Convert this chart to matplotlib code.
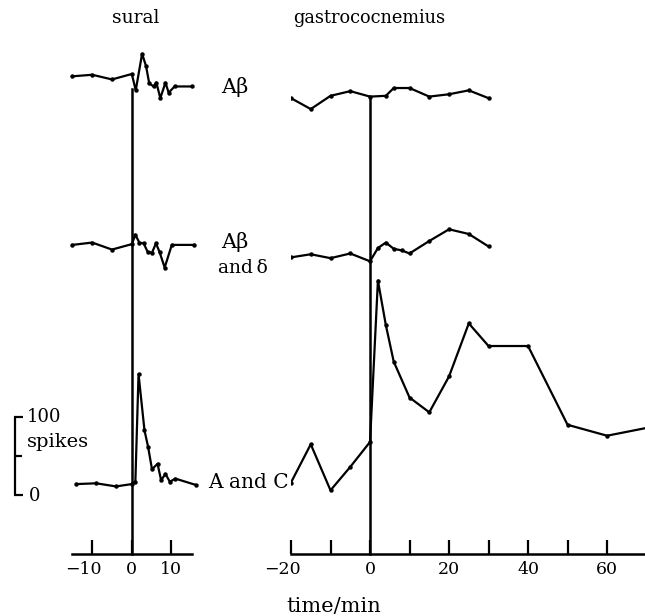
import matplotlib
matplotlib.use("Agg")
import matplotlib.pyplot as plt
import matplotlib.transforms as mtransforms

# ---------------- data (spike counts vs time in min) ----------------
sural_t_ab = [-15, -10, -5, 0, 1, 2.6, 3.6, 4.4, 5.5, 6.2, 7.2, 8.5, 9.3, 10.8, 15.2]
sural_ab = [56, 58, 52, 59, 38, 85, 69, 47, 43, 48, 28, 48, 35, 43, 43]

sural_t_abd = [-15, -10, -5, 0, 0.9, 1.9, 3.0, 4.0, 5.1, 6.1, 7.0, 8.3, 10.1, 15.8]
sural_abd = [45, 48, 39, 46, 58, 48, 47, 36, 35, 47, 36, 16, 45, 45]

sural_t_ac = [-14, -9, -4, 0, 0.9, 1.7, 3.2, 4.1, 5.1, 6.5, 7.4, 8.5, 9.6, 11, 16.1]
sural_ac = [14, 15, 11, 14, 17, 155, 83, 62, 33, 40, 19, 27, 17, 21, 13]

gastro_t_ab = [-20, -15, -10, -5, 0, 4, 6, 10, 15, 20, 25, 30]
gastro_ab = [28, 14, 31, 37, 30, 31, 41, 41, 30, 33, 38, 28]

gastro_t_abd = [-20, -15, -10, -5, 0, 2, 4, 6, 8, 10, 15, 20, 25, 30]
gastro_abd = [29, 33, 28, 34, 24, 41, 48, 40, 38, 34, 50, 65, 59, 43]

gastro_t_ac = [-20, -15, -10, -5, 0, 2, 4, 6, 10, 15, 20, 25, 30, 40, 50, 60, 70]
gastro_ac = [16, 65, 6, 36, 68, 275, 218, 171, 125, 106, 152, 220, 191, 191, 90, 76, 86]

sural_ticks = [-10, 0, 10]
sural_ticklabels = ["\u221210", "0", "10"]
gastro_ticks = [-20, -10, 0, 10, 20, 30, 40, 50, 60]
gastro_ticklabels = ["\u221220", "", "0", "", "20", "", "40", "", "60"]

# ---------------- layout ----------------
W, H = 645, 616
fig = plt.figure(figsize=(W / 100, H / 100), dpi=100)
plt.rcParams['font.family'] = ['DejaVu Serif']

def fx(px):
    return px / W

def fy(py):
    return 1 - py / H

PX_PER_SPIKE = 0.78
AX_BOTTOM = 554
YTOP = AX_BOTTOM / PX_PER_SPIKE

def row(py):  # baseline offset in spike units for a row whose zero is at pixel py
    return (AX_BOTTOM - py) / PX_PER_SPIKE

OFF_TOP, OFF_MID, OFF_BOT = row(120), row(280), row(495)

axL = fig.add_axes([fx(72), fy(AX_BOTTOM), (192 - 72) / W, AX_BOTTOM / H])
axR = fig.add_axes([fx(291), fy(AX_BOTTOM), (645 - 291) / W, AX_BOTTOM / H])
axL.set_xlim(-15.1, 15.2)
axR.set_xlim(-20.0, 69.6)

TICK_FS = 12.5
for ax, ticks, labels in ((axL, sural_ticks, sural_ticklabels),
                          (axR, gastro_ticks, gastro_ticklabels)):
    ax.set_ylim(0, YTOP)
    for s in ("left", "right", "top"):
        ax.spines[s].set_visible(False)
    ax.spines["bottom"].set_linewidth(1.8)
    ax.set_yticks([])
    ax.set_xticks(ticks)
    ax.set_xticklabels([])
    ax.tick_params(axis="x", direction="in", length=10, width=1.6)
    ax.patch.set_visible(False)
    # tick labels drawn as text so that the digits (not the minus) centre on the tick
    trans = mtransforms.blended_transform_factory(ax.transData, ax.transAxes)
    for v, lab in zip(ticks, labels):
        if not lab:
            continue
        shift = -8.5 / 100 if lab.startswith("\u2212") else 0
        t = trans + mtransforms.ScaledTranslation(shift, -6.5 / 100, fig.dpi_scale_trans)
        ax.text(v, 0, lab, transform=t, ha="center", va="top",
                fontsize=TICK_FS, clip_on=False)

lkw = dict(color="black", lw=1.6, marker="o", ms=2.2, mfc="black", mec="black")

axL.plot(sural_t_ab, [v + OFF_TOP for v in sural_ab], clip_on=False, **lkw)
axL.plot(sural_t_abd, [v + OFF_MID for v in sural_abd], clip_on=False, **lkw)
axL.plot(sural_t_ac, [v + OFF_BOT for v in sural_ac], clip_on=False, **lkw)

axR.plot(gastro_t_ab, [v + OFF_TOP for v in gastro_ab], **lkw)
axR.plot(gastro_t_abd, [v + OFF_MID for v in gastro_abd], **lkw)
axR.plot(gastro_t_ac, [v + OFF_BOT for v in gastro_ac], **lkw)

# stimulus time lines
axL.plot([0, 0], [0, row(89)], color="black", lw=1.8, clip_on=False)
axR.plot([0, 0], [0, row(97)], color="black", lw=1.8, clip_on=False)

# scale bar (100 spikes)
def lx(px):
    return (px - 131.5) / 3.95

sb = dict(color="black", lw=1.6, clip_on=False, solid_capstyle="butt")
axL.plot([lx(15), lx(15)], [OFF_BOT, OFF_BOT + 100], **sb)
axL.plot([lx(14.2), lx(23)], [OFF_BOT + 100, OFF_BOT + 100], **sb)
axL.plot([lx(14.2), lx(23)], [OFF_BOT, OFF_BOT], **sb)
axL.plot([lx(15), lx(22)], [OFF_BOT + 50, OFF_BOT + 50], **sb)
axL.text(lx(27), OFF_BOT + 100, "100", ha="left", va="center", fontsize=13, clip_on=False)
axL.text(lx(27), OFF_BOT + 68, "spikes", ha="left", va="center", fontsize=14, clip_on=False)
axL.text(lx(29), OFF_BOT - 1, "0", ha="left", va="center", fontsize=13, clip_on=False)

# titles and row labels
fig.text(fx(136), fy(18), "sural", ha="center", va="center", fontsize=13.5)
fig.text(fx(369), fy(18), "gastrococnemius", ha="center", va="center", fontsize=12.8)
fig.text(fx(221), fy(87), "A\u03b2", ha="left", va="center", fontsize=15)
fig.text(fx(221), fy(242), "A\u03b2", ha="left", va="center", fontsize=15)
fig.text(fx(218), fy(268), "and\u2009\u03b4", ha="left", va="center", fontsize=13.5)
fig.text(fx(208), fy(483), "A and C", ha="left", va="center", fontsize=14.5)
fig.text(fx(334), fy(606), "time/min", ha="center", va="center", fontsize=15)

fig.savefig("out.png", dpi=100)
